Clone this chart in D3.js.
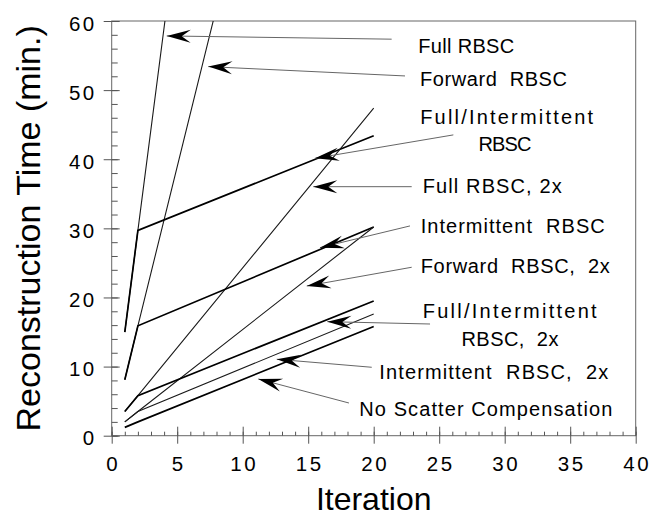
<!DOCTYPE html>
<html>
<head>
<meta charset="utf-8">
<script src="https://cdn.jsdelivr.net/npm/d3@7"></script>
<style>
  body { margin: 0; background: #fff; }
  text { font-family: "Liberation Sans", Arial, sans-serif; fill: #000; }
</style>
</head>
<body>
<div class="container"></div>
<script>
const w = 662
const h = 526

// data: iteration -> reconstruction time (min.)
const iterations = [1, 2, 20]
const fullRBSC = [15.0, 29.7, 294]
const forwardRBSC = [8.1, 15.9, 154]
const fullIntRBSC = [15.0, 29.7, 43.4]
const fullRBSC2x = [3.5, 5.8, 47.4]
const intRBSC = [8.1, 15.9, 30.2]
const forwardRBSC2x = [2.0, 3.5, 30.2]
const fullIntRBSC2x = [3.5, 5.8, 19.5]
const intRBSC2x = [2.0, 3.5, 17.6]
const noScatter = [1.2, 2.0, 15.8]

const xTicks = [0, 5, 10, 15, 20, 25, 30, 35, 40]
const yTicks = [0, 10, 20, 30, 40, 50, 60]

const series = [
  {name: "Full RBSC", values: fullRBSC, thick: false},
  {name: "Forward RBSC", values: forwardRBSC, thick: false},
  {name: "Full/Intermittent RBSC", values: fullIntRBSC, thick: true},
  {name: "Full RBSC, 2x", values: fullRBSC2x, thick: false},
  {name: "Intermittent RBSC", values: intRBSC, thick: true},
  {name: "Forward RBSC, 2x", values: forwardRBSC2x, thick: false},
  {name: "Full/Intermittent RBSC, 2x", values: fullIntRBSC2x, thick: true},
  {name: "Intermittent RBSC, 2x", values: intRBSC2x, thick: false},
  {name: "No Scatter Compensation", values: noScatter, thick: true}
]

// annotation layout (data units): arrow tip, arrow tail, label lines
const notes = [
  {tip: [4.20, 57.84], tail: [21.37, 57.37], lines: [{t: "Full RBSC", x: 23.40, y: 56.4, len: 96, a: "start"}]},
  {tip: [7.37, 53.40], tail: [22.39, 52.05], lines: [{t: "Forward  RBSC", x: 23.53, y: 51.6, len: 147, a: "start"}]},
  {tip: [15.52, 40.14], tail: [26.08, 43.52], lines: [{t: "Full/Intermittent", x: 30.15, y: 46.05, len: 173, a: "middle"},
                                                       {t: "RBSC", x: 30.02, y: 42.2, len: 53, a: "middle"}]},
  {tip: [15.39, 36.03], tail: [22.90, 36.03], lines: [{t: "Full RBSC, 2x", x: 23.74, y: 36.06, len: 139, a: "start"}]},
  {tip: [15.90, 27.21], tail: [22.77, 30.35], lines: [{t: "Intermittent  RBSC", x: 23.59, y: 30.35, len: 184, a: "start"}]},
  {tip: [14.89, 21.66], tail: [22.90, 24.37], lines: [{t: "Forward  RBSC,  2x", x: 23.59, y: 24.56, len: 189, a: "start"}]},
  {tip: [16.46, 16.50], tail: [24.30, 16.16], lines: [{t: "Full/Intermittent", x: 30.38, y: 18.05, len: 174, a: "middle"},
                                                       {t: "RBSC,  2x", x: 30.40, y: 13.99, len: 97, a: "middle"}]},
  {tip: [12.60, 11.06], tail: [19.85, 9.90], lines: [{t: "Intermittent  RBSC,  2x", x: 20.43, y: 9.22, len: 229, a: "start"}]},
  {tip: [11.19, 8.21], tail: [18.11, 4.73], lines: [{t: "No Scatter Compensation", x: 18.90, y: 3.86, len: 253, a: "start"}]}
]

const xScale = d3.scaleLinear().domain([0, 40]).range([111.7, 635.7])
const yScale = d3.scaleLinear().domain([0, 60]).range([435.7, 21])

const svg = d3.select(".container")
              .append("svg")
              .attr("width", w)
              .attr("height", h)

svg.append("defs").append("clipPath")
    .attr("id", "plot-clip")
    .append("rect")
      .attr("x", xScale(0))
      .attr("y", yScale(60))
      .attr("width", xScale(40) - xScale(0))
      .attr("height", yScale(0) - yScale(60))

// frame
svg.append("rect")
    .attr("x", xScale(0))
    .attr("y", yScale(60))
    .attr("width", xScale(40) - xScale(0))
    .attr("height", yScale(0) - yScale(60))
    .attr("fill", "none")
    .attr("stroke", "#666")
    .attr("stroke-width", 1)

// y axis: outward major with labels, inward major, inward minor
const yOut = svg.append("g")
    .attr("transform", `translate(${xScale(0)}, 0)`)
    .call(d3.axisLeft(yScale).tickValues(yTicks).tickSize(8).tickPadding(10))
const yIn = svg.append("g")
    .attr("transform", `translate(${xScale(0)}, 0)`)
    .call(d3.axisRight(yScale).tickValues(yTicks).tickSize(8).tickFormat(""))
const yMinor = svg.append("g")
    .attr("transform", `translate(${xScale(0)}, 0)`)
    .call(d3.axisRight(yScale).tickValues(d3.range(0, 61, 2)).tickSize(6).tickFormat(""))

// x axis
const xOut = svg.append("g")
    .attr("transform", `translate(0, ${yScale(0)})`)
    .call(d3.axisBottom(xScale).tickValues(xTicks).tickSize(8).tickPadding(13))
const xIn = svg.append("g")
    .attr("transform", `translate(0, ${yScale(0)})`)
    .call(d3.axisTop(xScale).tickValues(xTicks).tickSize(9).tickFormat(""))
const xMinor = svg.append("g")
    .attr("transform", `translate(0, ${yScale(0)})`)
    .call(d3.axisTop(xScale).tickValues(d3.range(0, 41, 1)).tickSize(4).tickFormat(""))

;[yOut, yIn, yMinor, xOut, xIn, xMinor].forEach(g => {
  g.select(".domain").remove()
  g.selectAll(".tick line").attr("stroke", "#555")
})

yOut.selectAll(".tick text")
    .attr("font-size", "20.5px")
    .attr("letter-spacing", "2.5px")
    .attr("dx", "3px")
    .attr("dy", "0.45em")
xOut.selectAll(".tick text")
    .attr("font-size", "20.5px")
    .attr("letter-spacing", "2.5px")
    .attr("dx", "1px")

// axis titles
svg.append("text")
    .attr("text-anchor", "middle")
    .attr("x", xScale(20))
    .attr("y", 510)
    .style("font-size", "32px")
    .text("Iteration")

svg.append("text")
    .attr("text-anchor", "middle")
    .attr("transform", `translate(40, ${(yScale(0) + yScale(60)) / 2}) rotate(-90)`)
    .style("font-size", "34px")
    .text("Reconstruction Time (min.)")

// series lines
const line = d3.line()
               .x((d, i) => xScale(iterations[i]))
               .y(d => yScale(d))

svg.append("g")
    .attr("clip-path", "url(#plot-clip)")
    .selectAll("path")
    .data(series)
    .enter()
    .append("path")
      .attr("d", d => line(d.values))
      .attr("fill", "none")
      .attr("stroke", d => d.thick ? "#000" : "#1a1a1a")
      .attr("stroke-width", d => d.thick ? 1.7 : 1.1)

// annotations
const ann = svg.append("g")

notes.forEach(n => {
  const tx = xScale(n.tip[0]), ty = yScale(n.tip[1])
  const lx = xScale(n.tail[0]), ly = yScale(n.tail[1])
  const ang = Math.atan2(ly - ty, lx - tx) * 180 / Math.PI

  ann.append("line")
      .attr("x1", lx).attr("y1", ly)
      .attr("x2", tx).attr("y2", ty)
      .attr("stroke", "#666")
      .attr("stroke-width", 1)

  ann.append("path")
      .attr("d", "M0,0 L24,-6.5 L15,0 L24,6.5 Z")
      .attr("fill", "#000")
      .attr("transform", `translate(${tx}, ${ty}) rotate(${ang})`)

  n.lines.forEach(l => {
    ann.append("text")
        .attr("x", xScale(l.x))
        .attr("y", yScale(l.y))
        .attr("dy", "0.35em")
        .attr("text-anchor", l.a)
        .attr("textLength", l.len)
        .attr("lengthAdjust", "spacing")
        .style("font-size", "20px")
        .style("white-space", "pre")
        .text(l.t)
  })
})
</script>
</body>
</html>
